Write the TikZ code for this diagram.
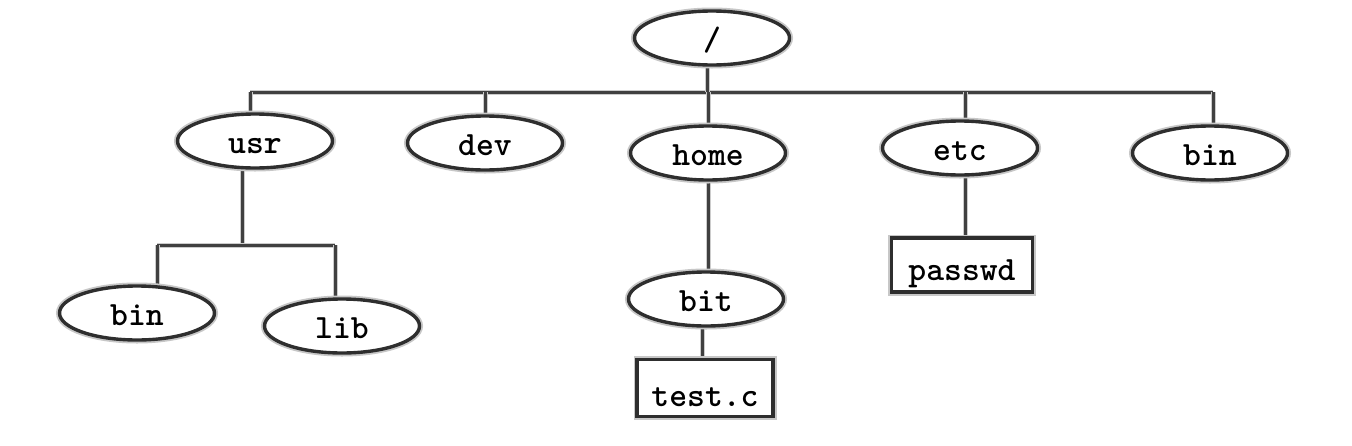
\documentclass[tikz,border=0pt]{standalone}
\usepackage{fontspec}
\usetikzlibrary{shapes.geometric,backgrounds}
\tikzset{
  ink/.style={draw=black!82, line width=3.4pt},
  halo/.style={preaction={draw=black!22, line width=7pt}},
  lbl/.style={font=\ttfamily\bfseries\fontsize{34}{34}\selectfont},
  dir/.style={ellipse, ink, halo, fill=white, lbl, minimum width=155pt, minimum height=54pt, inner sep=0pt, text height=26pt, text depth=2pt},
  file/.style={rectangle, ink, halo, fill=white, lbl, inner sep=0pt, text height=36pt, text depth=0pt},
  conn/.style={draw=black!75, line width=3pt, preaction={draw=black!20, line width=5pt}}
}
\begin{document}
\begin{tikzpicture}[x=1pt,y=-1pt]
\useasboundingbox (0,0) rectangle (1352,445);
% nodes
\node[dir] (root) at (712,38) {/};
\node[dir] (usr) at (255,141) {usr};
\node[dir] (dev) at (485,143) {dev};
\node[dir] (home) at (708,153) {home};
\node[dir] (etc) at (960,148) {etc};
\node[dir] (bin) at (1210,153) {bin};
\node[dir] (binl) at (137,313) {bin};
\node[dir] (lib) at (342,326) {lib};
\node[dir] (bit) at (706,299) {bit};
\node[file, minimum width=136pt, minimum height=57pt] (test) at (705,388) {test.c};
\node[file, minimum width=141pt, minimum height=54pt, text height=30pt] (passwd) at (962,265) {passwd};
% junction points of the bars
\coordinate (rj) at (707,92);
\coordinate (barL) at (250,92);
\coordinate (barR) at (1213,92);
\coordinate (ub) at (242,245);
\coordinate (sbL) at (157,245);
\coordinate (sbR) at (335,245);
\coordinate (ej) at ([xshift=5pt]etc.center);
\coordinate (bj) at ([xshift=-4pt]bit.center);
% connectors, under the nodes
\begin{pgfonlayer}{background}
\fill[white] (0,0) rectangle (1352,445);
\path[conn] (barL) -- (barR);
\path[conn] (rj |- root) -- (rj);
\path[conn] (barL) -- (barL |- usr);
\path[conn] (dev |- barL) -- (dev);
\path[conn] (home |- barL) -- (home);
\path[conn] (ej |- barL) -- (ej);
\path[conn] (barR) -- (barR |- bin);
\path[conn] (ub |- usr) -- (ub);
\path[conn] (sbL) -- (sbR);
\path[conn] (sbL) -- (sbL |- binl);
\path[conn] (sbR) -- (sbR |- lib);
\path[conn] (home) -- (home |- bit);
\path[conn] (bj) -- (bj |- test);
\path[conn] (ej) -- (ej |- passwd);
\end{pgfonlayer}
\end{tikzpicture}
\end{document}
